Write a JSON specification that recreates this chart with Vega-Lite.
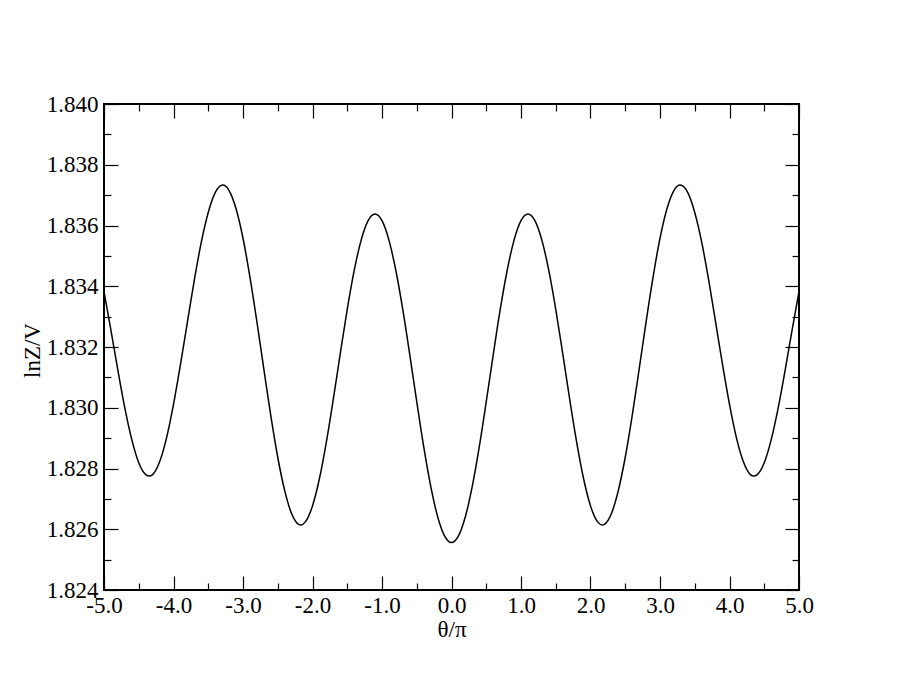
{
  "$schema": "https://vega.github.io/schema/vega-lite/v6.json",
  "width": 695,
  "height": 486,
  "autosize": {"type": "none"},
  "padding": {"left": 104, "top": 104, "right": 101, "bottom": 105},
  "background": "white",
  "config": {
    "font": "Liberation Serif",
    "view": {"stroke": "black", "strokeWidth": 2},
    "axis": {
      "domain": false, "grid": false, "tickColor": "black", "tickWidth": 1.2,
      "labelFont": "Liberation Serif", "titleFont": "Liberation Serif",
      "labelColor": "black", "titleColor": "black", "labelFontSize": 23,
      "titleFontSize": 23, "titleFontWeight": "normal", "labelFlush": false, "labelOverlap": false
    }
  },
  "data": {"values": [
    {"x": -5.0, "y": 1.83383}, {"x": -4.9, "y": 1.83255}, {"x": -4.8, "y": 1.83123}, {"x": -4.7, "y": 1.82999},
    {"x": -4.6, "y": 1.82895}, {"x": -4.5, "y": 1.82819}, {"x": -4.4, "y": 1.8278}, {"x": -4.35, "y": 1.82775},
    {"x": -4.3, "y": 1.8278}, {"x": -4.2, "y": 1.82822}, {"x": -4.1, "y": 1.82901}, {"x": -4.0, "y": 1.83011},
    {"x": -3.9, "y": 1.83142}, {"x": -3.8, "y": 1.83282}, {"x": -3.7, "y": 1.83421}, {"x": -3.6, "y": 1.83545},
    {"x": -3.5, "y": 1.83643}, {"x": -3.4, "y": 1.83708}, {"x": -3.29, "y": 1.83733}, {"x": -3.2, "y": 1.83715},
    {"x": -3.1, "y": 1.83655}, {"x": -3.0, "y": 1.83558}, {"x": -2.9, "y": 1.8343}, {"x": -2.8, "y": 1.83283},
    {"x": -2.7, "y": 1.83127}, {"x": -2.6, "y": 1.82974}, {"x": -2.5, "y": 1.82837}, {"x": -2.4, "y": 1.82727},
    {"x": -2.3, "y": 1.82651}, {"x": -2.2, "y": 1.82616}, {"x": -2.17, "y": 1.82614}, {"x": -2.1, "y": 1.82625},
    {"x": -2.0, "y": 1.82677}, {"x": -1.9, "y": 1.82767}, {"x": -1.8, "y": 1.82888}, {"x": -1.7, "y": 1.83029},
    {"x": -1.6, "y": 1.83179}, {"x": -1.5, "y": 1.83324}, {"x": -1.4, "y": 1.83452}, {"x": -1.3, "y": 1.83552},
    {"x": -1.2, "y": 1.83616}, {"x": -1.1, "y": 1.83638}, {"x": -1.0, "y": 1.83616}, {"x": -0.9, "y": 1.83552},
    {"x": -0.8, "y": 1.83451}, {"x": -0.7, "y": 1.83322}, {"x": -0.6, "y": 1.83174}, {"x": -0.5, "y": 1.8302},
    {"x": -0.4, "y": 1.82872}, {"x": -0.3, "y": 1.82743}, {"x": -0.2, "y": 1.82642}, {"x": -0.1, "y": 1.82578},
    {"x": 0.0, "y": 1.82556},
    {"x": 0.1, "y": 1.82578}, {"x": 0.2, "y": 1.82642}, {"x": 0.3, "y": 1.82743}, {"x": 0.4, "y": 1.82872},
    {"x": 0.5, "y": 1.8302}, {"x": 0.6, "y": 1.83174}, {"x": 0.7, "y": 1.83322}, {"x": 0.8, "y": 1.83451},
    {"x": 0.9, "y": 1.83552}, {"x": 1.0, "y": 1.83616}, {"x": 1.1, "y": 1.83638}, {"x": 1.2, "y": 1.83616},
    {"x": 1.3, "y": 1.83552}, {"x": 1.4, "y": 1.83452}, {"x": 1.5, "y": 1.83324}, {"x": 1.6, "y": 1.83179},
    {"x": 1.7, "y": 1.83029}, {"x": 1.8, "y": 1.82888}, {"x": 1.9, "y": 1.82767}, {"x": 2.0, "y": 1.82677},
    {"x": 2.1, "y": 1.82625}, {"x": 2.17, "y": 1.82614}, {"x": 2.2, "y": 1.82616}, {"x": 2.3, "y": 1.82651},
    {"x": 2.4, "y": 1.82727}, {"x": 2.5, "y": 1.82837}, {"x": 2.6, "y": 1.82974}, {"x": 2.7, "y": 1.83127},
    {"x": 2.8, "y": 1.83283}, {"x": 2.9, "y": 1.8343}, {"x": 3.0, "y": 1.83558}, {"x": 3.1, "y": 1.83655},
    {"x": 3.2, "y": 1.83715}, {"x": 3.29, "y": 1.83733}, {"x": 3.4, "y": 1.83708}, {"x": 3.5, "y": 1.83643},
    {"x": 3.6, "y": 1.83545}, {"x": 3.7, "y": 1.83421}, {"x": 3.8, "y": 1.83282}, {"x": 3.9, "y": 1.83142},
    {"x": 4.0, "y": 1.83011}, {"x": 4.1, "y": 1.82901}, {"x": 4.2, "y": 1.82822}, {"x": 4.3, "y": 1.8278},
    {"x": 4.35, "y": 1.82775}, {"x": 4.4, "y": 1.8278}, {"x": 4.5, "y": 1.82819}, {"x": 4.6, "y": 1.82895},
    {"x": 4.7, "y": 1.82999}, {"x": 4.8, "y": 1.83123}, {"x": 4.9, "y": 1.83255}, {"x": 5.0, "y": 1.83383}
  ]},
  "layer": [
    {
      "mark": {"type": "line", "color": "black", "strokeWidth": 1.5, "interpolate": "monotone"},
      "encoding": {
        "x": {"field": "x", "type": "quantitative", "scale": {"domain": [-5, 5], "nice": false, "zero": false},
          "axis": {"orient": "bottom", "values": [-5, -4, -3, -2, -1, 0, 1, 2, 3, 4, 5], "tickSize": -14, "labelPadding": 18,
            "labelExpr": "(datum.value < 0 ? '-' : '') + format(abs(datum.value), '.1f')",
            "title": "θ/π", "titleBaseline": "alphabetic", "titleX": 347.5, "titleY": 46}},
        "y": {"field": "y", "type": "quantitative", "scale": {"domain": [1.824, 1.84], "nice": false, "zero": false},
          "axis": {"orient": "left", "values": [1.824, 1.826, 1.828, 1.83, 1.832, 1.834, 1.836, 1.838, 1.84], "format": ".3f",
            "tickSize": -14, "labelPadding": 20, "title": "lnZ/V", "titleBaseline": "alphabetic", "titleAngle": 270,
            "titleX": -65, "titleY": 246}}
      }
    },
    {
      "mark": {"type": "line", "strokeOpacity": 0},
      "encoding": {
        "x": {"field": "x", "type": "quantitative",
          "axis": {"orient": "bottom", "values": [-4.5, -3.5, -2.5, -1.5, -0.5, 0.5, 1.5, 2.5, 3.5, 4.5], "tickSize": -7, "labels": false, "title": null}},
        "y": {"field": "y", "type": "quantitative",
          "axis": {"orient": "left", "values": [1.825, 1.827, 1.829, 1.831, 1.833, 1.835, 1.837, 1.839], "tickSize": -7, "labels": false, "title": null}}
      }
    },
    {
      "mark": {"type": "line", "strokeOpacity": 0},
      "encoding": {
        "x": {"field": "x", "type": "quantitative",
          "axis": {"orient": "top", "values": [-5, -4, -3, -2, -1, 0, 1, 2, 3, 4, 5], "tickSize": -14, "labels": false, "title": null}},
        "y": {"field": "y", "type": "quantitative",
          "axis": {"orient": "right", "values": [1.824, 1.826, 1.828, 1.83, 1.832, 1.834, 1.836, 1.838, 1.84], "tickSize": -14, "labels": false, "title": null}}
      }
    },
    {
      "mark": {"type": "line", "strokeOpacity": 0},
      "encoding": {
        "x": {"field": "x", "type": "quantitative",
          "axis": {"orient": "top", "values": [-4.5, -3.5, -2.5, -1.5, -0.5, 0.5, 1.5, 2.5, 3.5, 4.5], "tickSize": -7, "labels": false, "title": null}},
        "y": {"field": "y", "type": "quantitative",
          "axis": {"orient": "right", "values": [1.825, 1.827, 1.829, 1.831, 1.833, 1.835, 1.837, 1.839], "tickSize": -7, "labels": false, "title": null}}
      }
    }
  ],
  "resolve": {"axis": {"x": "independent", "y": "independent"}}
}
